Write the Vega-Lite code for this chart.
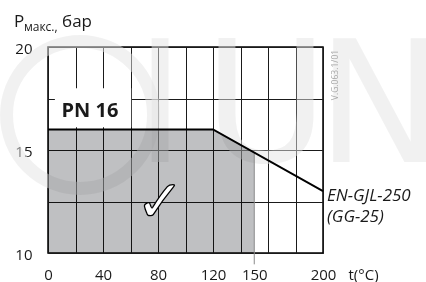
{
  "$schema": "https://vega.github.io/schema/vega-lite/v6.json",
  "width": 275,
  "height": 206,
  "autosize": {"type": "none"},
  "padding": {"left": 48, "top": 47, "right": 103, "bottom": 29},
  "background": "white",
  "config": {
    "view": {"stroke": "black", "strokeWidth": 1.5},
    "font": "Open Sans"
  },
  "datasets": {
    "curve": [{"t": 0, "p": 16}, {"t": 120, "p": 16}, {"t": 200, "p": 13}],
    "zone": [{"t": 0, "p": 16}, {"t": 120, "p": 16}, {"t": 150, "p": 14.875}],
    "edge": [{"t": 150, "p": 14.875, "p2": 9.45}],
    "ring": [{"t": 23.3, "p": 16.7}],
    "letters": [
      {"t": 81.5, "p": 14.42, "ch": "I"},
      {"t": 158.5, "p": 14.42, "ch": "U"},
      {"t": 241.5, "p": 14.42, "ch": "N"}
    ],
    "box": [{"t": 5, "t2": 60.5, "p": 16.1, "p2": 18.0}],
    "pLabel": [{"t": -24.7, "p": 20.97, "txt": "P"}],
    "subLabel": [{"t": -17.5, "p": 20.78, "txt": "макс.,"}],
    "barLabel": [{"t": 10.2, "p": 20.97, "txt": "бар"}],
    "pn": [{"t": 30.5, "p": 16.6, "txt": "PN 16"}],
    "mat": [
      {"t": 202.9, "p": 12.52, "txt": "EN-GJL-250"},
      {"t": 202.9, "p": 11.5, "txt": "(GG-25)"}
    ],
    "code": [{"t": 208.7, "p": 18.64, "txt": "V.G.063.1/01"}],
    "check": [{"t": 81.5, "p": 12.4, "txt": "✓"}]
  },
  "layer": [
    {
      "data": {"name": "ring"},
      "mark": {"type": "point", "shape": "circle", "filled": false, "stroke": "#e4e4e4", "strokeWidth": 13, "opacity": 0.5, "size": 21609, "clip": false},
      "encoding": {
        "x": {
          "field": "t", "type": "quantitative",
          "scale": {"domain": [0, 200], "nice": false, "zero": false},
          "axis": {
            "values": [0, 20, 40, 60, 80, 100, 120, 140, 150, 160, 180, 200],
            "tickCount": 30,
            "format": "d",
            "grid": true,
            "gridColor": "#1a1a1a",
            "gridWidth": 1,
            "gridOpacity": {"condition": {"test": "datum.value == 150", "value": 0}, "value": 1},
            "domain": false,
            "ticks": false,
            "labelExpr": "indexof([0,40,80,120,150,200], datum.value) >= 0 ? datum.label : ''",
            "labelFontSize": 15,
            "labelColor": "#1a1a1a",
            "labelPadding": 14,
            "labelFlush": false,
            "labelOverlap": false,
            "labelBaseline": "top",
            "title": "t(°C)",
            "titleX": 300,
            "titleY": 14,
            "titleAlign": "left",
            "titleAnchor": null,
            "titleBaseline": "top",
            "titleFontWeight": "normal",
            "titleFontSize": 15,
            "titleColor": "#1a1a1a"
          }
        },
        "y": {
          "field": "p", "type": "quantitative",
          "scale": {"domain": [10, 20], "nice": false, "zero": false},
          "axis": {
            "values": [10, 12.5, 15, 17.5, 20],
            "format": "d",
            "grid": true,
            "gridColor": "#1a1a1a",
            "gridWidth": 1,
            "domain": false,
            "ticks": false,
            "labelExpr": "datum.value % 5 == 0 ? datum.label : ''",
            "labelFontSize": 15,
            "labelColor": "#1a1a1a",
            "labelPadding": 16,
            "labelBaseline": "middle",
            "labelOffset": 1,
            "title": null
          }
        }
      }
    },
    {
      "data": {"name": "letters"},
      "mark": {"type": "text", "font": "DejaVu Sans", "fontSize": 170, "fill": "#e4e4e4", "opacity": 0.5, "align": "center", "baseline": "alphabetic", "clip": false},
      "encoding": {
        "x": {"field": "t", "type": "quantitative"},
        "y": {"field": "p", "type": "quantitative"},
        "text": {"field": "ch"}
      }
    },
    {
      "data": {"name": "zone"},
      "mark": {"type": "area", "fill": "#bfc0c2", "blend": "multiply"},
      "encoding": {
        "x": {"field": "t", "type": "quantitative"},
        "y": {"field": "p", "type": "quantitative"},
        "y2": {"datum": 10}
      }
    },
    {
      "data": {"name": "edge"},
      "mark": {"type": "rule", "stroke": "#8a8a8a", "strokeWidth": 1, "clip": false},
      "encoding": {
        "x": {"field": "t", "type": "quantitative"},
        "y": {"field": "p", "type": "quantitative"},
        "y2": {"field": "p2"}
      }
    },
    {
      "data": {"name": "curve"},
      "mark": {"type": "line", "stroke": "black", "strokeWidth": 2},
      "encoding": {
        "x": {"field": "t", "type": "quantitative"},
        "y": {"field": "p", "type": "quantitative"}
      }
    },
    {
      "data": {"name": "box"},
      "mark": {"type": "rect", "fill": "white"},
      "encoding": {
        "x": {"field": "t", "type": "quantitative"},
        "x2": {"field": "t2"},
        "y": {"field": "p", "type": "quantitative"},
        "y2": {"field": "p2"}
      }
    },
    {
      "data": {"name": "pLabel"},
      "mark": {"type": "text", "fontSize": 17, "fill": "#1a1a1a", "align": "left", "baseline": "alphabetic", "clip": false},
      "encoding": {
        "x": {"field": "t", "type": "quantitative"},
        "y": {"field": "p", "type": "quantitative"},
        "text": {"field": "txt"}
      }
    },
    {
      "data": {"name": "subLabel"},
      "mark": {"type": "text", "fontSize": 12, "fill": "#1a1a1a", "align": "left", "baseline": "alphabetic", "clip": false},
      "encoding": {
        "x": {"field": "t", "type": "quantitative"},
        "y": {"field": "p", "type": "quantitative"},
        "text": {"field": "txt"}
      }
    },
    {
      "data": {"name": "barLabel"},
      "mark": {"type": "text", "fontSize": 17, "fill": "#1a1a1a", "align": "left", "baseline": "alphabetic", "clip": false},
      "encoding": {
        "x": {"field": "t", "type": "quantitative"},
        "y": {"field": "p", "type": "quantitative"},
        "text": {"field": "txt"}
      }
    },
    {
      "data": {"name": "pn"},
      "mark": {"type": "text", "fontSize": 20, "fontWeight": "bold", "fill": "#1a1a1a", "align": "center", "baseline": "alphabetic"},
      "encoding": {
        "x": {"field": "t", "type": "quantitative"},
        "y": {"field": "p", "type": "quantitative"},
        "text": {"field": "txt"}
      }
    },
    {
      "data": {"name": "mat"},
      "mark": {"type": "text", "fontSize": 17, "fontStyle": "italic", "fill": "#1a1a1a", "align": "left", "baseline": "alphabetic", "clip": false},
      "encoding": {
        "x": {"field": "t", "type": "quantitative"},
        "y": {"field": "p", "type": "quantitative"},
        "text": {"field": "txt"}
      }
    },
    {
      "data": {"name": "code"},
      "mark": {"type": "text", "fontSize": 8.5, "fill": "#a8a8a8", "angle": 270, "align": "center", "baseline": "middle", "clip": false},
      "encoding": {
        "x": {"field": "t", "type": "quantitative"},
        "y": {"field": "p", "type": "quantitative"},
        "text": {"field": "txt"}
      }
    },
    {
      "data": {"name": "check"},
      "mark": {"type": "text", "font": "DejaVu Sans", "fontSize": 58, "fill": "white", "stroke": "black", "strokeWidth": 1.3, "align": "center", "baseline": "middle"},
      "encoding": {
        "x": {"field": "t", "type": "quantitative"},
        "y": {"field": "p", "type": "quantitative"},
        "text": {"field": "txt"}
      }
    }
  ]
}
